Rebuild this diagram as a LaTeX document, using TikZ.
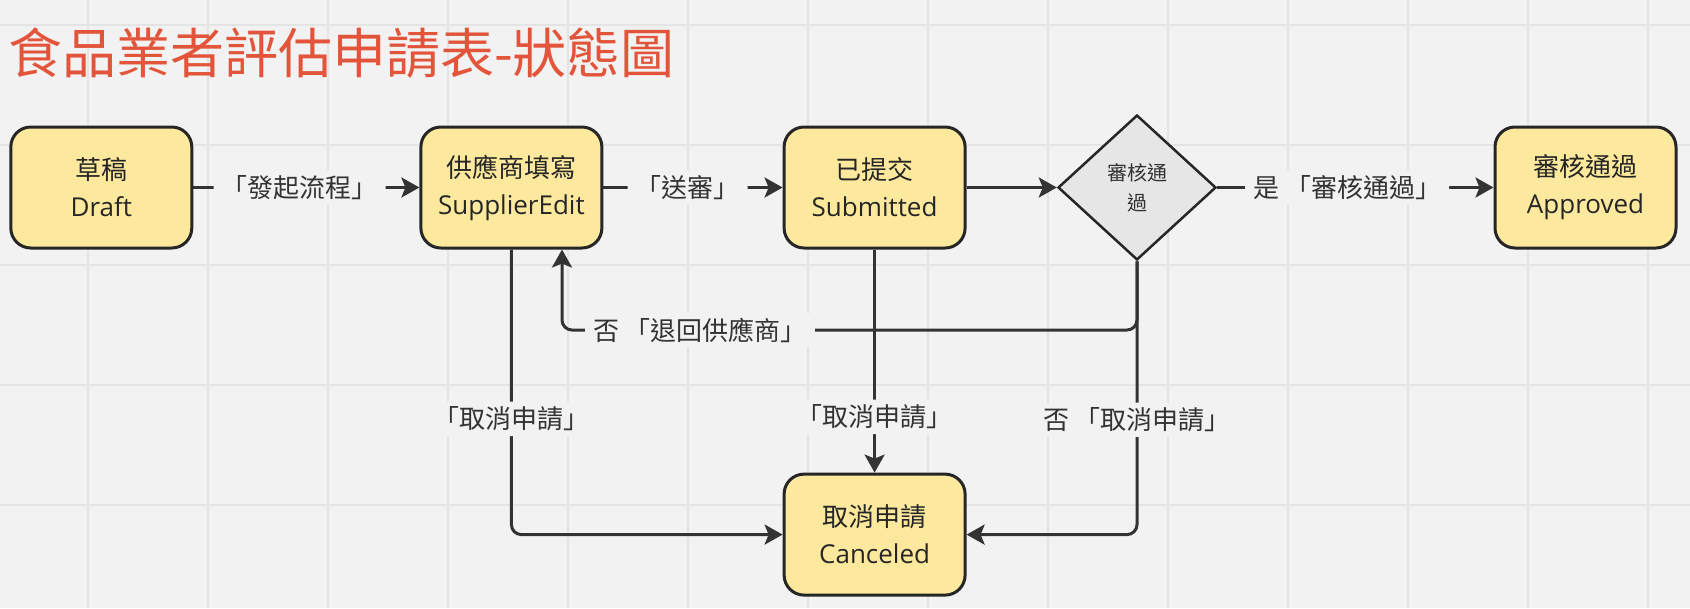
\documentclass[tikz,border=0pt]{standalone}
\usepackage{fontspec}
\setmainfont{Open Sans}
\newfontfamily\cjk{Noto Sans CJK TC}
\usepackage{xcolor}
\usepackage{tikz}
\usetikzlibrary{
  arrows.meta,
  shapes.geometric}

\definecolor{bgcol}{HTML}{F2F2F2}
\definecolor{gridcol}{HTML}{E4E4E4}
\definecolor{boxcol}{HTML}{FCE99D}
\definecolor{deccol}{HTML}{E6E6E6}
\definecolor{linecol}{HTML}{333333}
\definecolor{titlecol}{HTML}{E2553A}

\tikzset{gridline/.style={draw=gridcol, line width=2pt},
         title/.style={anchor=west, inner sep=0pt, text=titlecol,
                       font=\cjk\fontsize{54}{60}\selectfont},
         state/.style={draw=black!85, line width=3pt, fill=boxcol,
                       rounded corners=20pt, align=center,
                       minimum width=181pt, minimum height=121pt,
                       text=black!85, font=\fontsize{26}{37}\selectfont},
         decision/.style={diamond, draw=black!85, line width=2.5pt, fill=deccol,
                          align=center, inner sep=0pt, aspect=1,
                          minimum width=158pt, minimum height=145pt,
                          text=black!80, font=\cjk\fontsize{20}{30}\selectfont},
         trans/.style={draw=linecol, line width=3pt, rounded corners=10pt,
                       -{Stealth[length=18pt,width=20pt,inset=4pt]}},
         translabel/.style={fill=bgcol, text=linecol, inner xsep=8pt, inner ysep=5pt,
                            font=\cjk\fontsize{26}{30}\selectfont}
        }

\begin{document}
\begin{tikzpicture}[x=1pt,y=-1pt]

%background
\fill[bgcol] (0,0) rectangle (1690,608);
\useasboundingbox (0,0) rectangle (1690,608);
\foreach \gx in {88,208,...,1648}
  \draw[gridline] (\gx,0) -- (\gx,608);
\foreach \gy in {25,145,...,505}
  \draw[gridline] (0,\gy) -- (1690,\gy);

\node[title] (ttl) at (8,53) {食品業者評估申請表-狀態圖};

%states
\node[state] (draft) at (101.3,187.5) {{\cjk 草稿}\\Draft};
\node[state] (sup) at (511.4,187.5) {{\cjk 供應商填寫}\\SupplierEdit};
\node[state] (sub) at (874.6,187.5) {{\cjk 已提交}\\Submitted};
\node[decision] (dec) at (1137,187.5) {審核通\\過};
\node[state] (app) at (1585.5,187.5) {{\cjk 審核通過}\\Approved};
\node[state] (can) at (874.6,534.6) {{\cjk 取消申請}\\Canceled};

\coordinate (back) at (562,330);

%transitions
\draw[trans] (draft) -- node[translabel, pos=0.47] {「發起流程」} (sup);
\draw[trans] (sup) -- node[translabel, pos=0.47] {「送審」} (sub);
\draw[trans] (sub) -- (dec);
\draw[trans] (dec) -- node[translabel, pos=0.47] {是 「審核通過」} (app);

\draw[trans] (dec.south) |- node[translabel, pos=0.88] {否 「退回供應商」} (back) -- (sup.south -| back);

\draw[trans] (sup.south) |- node[translabel, pos=0.297] {「取消申請」} (can.west);
\draw[trans] (sub) -- node[translabel, pos=0.75] {「取消申請」} (can);
\draw[trans] (dec.south) |- node[translabel, pos=0.29] {否 「取消申請」} (can.east);

\end{tikzpicture}
\end{document}
